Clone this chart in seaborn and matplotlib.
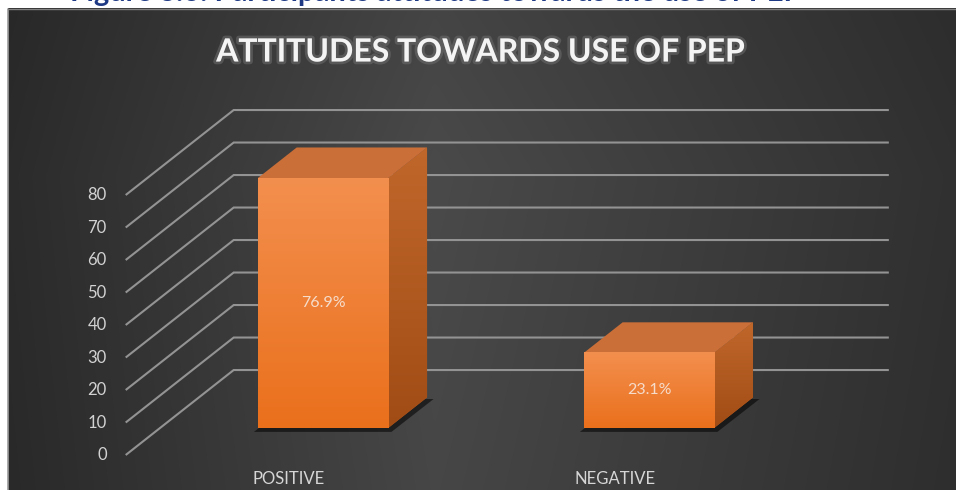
import numpy as np
import pandas as pd
import matplotlib
matplotlib.use("Agg")
import matplotlib.pyplot as plt
import matplotlib.patheffects as pe
from matplotlib.colors import LinearSegmentedColormap
from matplotlib.patches import Polygon
import seaborn as sns

# ---- data -------------------------------------------------------------
categories = ["POSITIVE", "NEGATIVE"]
percent = [76.9, 23.1]
y_ticks = [0, 10, 20, 30, 40, 50, 60, 70, 80]
title = "ATTITUDES TOWARDS USE OF PEP"
caption = "Figure 3.6: Participants attitudes towards the use of PEP"

# ---- style ------------------------------------------------------------
sns.set_theme(style="white")
plt.rcParams["font.family"] = ["Lato", "DejaVu Sans"]

W, H, DPI = 956, 490, 100
fig = plt.figure(figsize=(W / DPI, H / DPI), dpi=DPI)
fig.patch.set_facecolor("white")

# dark chart panel with a soft horizontal light falloff
bg = fig.add_axes([0, 0, 1, 1], zorder=0)
bg.set_xlim(0, W)
bg.set_ylim(H, 0)
bg.axis("off")
xs = np.linspace(0, 1, 400)
horiz = np.interp(xs, [0, 0.45, 1], [0.17, 0.29, 0.19])
ys = np.linspace(0, 1, 200)
vert = np.interp(ys, [0, 0.35, 1], [0.93, 1.0, 0.95])
shade = np.outer(vert, horiz)
bg.imshow(np.dstack([shade] * 3), extent=(8, W, H, 9), aspect="auto",
          interpolation="bilinear")
bg.plot([8.5, 8.5], [9, H], color="#9c9c9c", lw=1.2)
bg.plot([8, W], [9.5, 9.5], color="#808080", lw=1.0)

# ---- 3-D style projection --------------------------------------------
# the axes data space is the plane of the bars' front faces;
# depth is added as an oblique offset (KX categories, KY percent points)
KX, KY = 0.3313, 26.15
D_FRONT = 0.318          # depth of the bar front faces (0 = floor front, 1 = back wall)
BAR_DEPTH = 0.36
C_LEFT, C_RIGHT = -0.5, 1.51
BAR_W = 0.4

ax = fig.add_axes([0, 0, 1, 1], zorder=1)
ax.patch.set_alpha(0)

df = pd.DataFrame({"attitude": categories, "percent": percent})
sns.barplot(data=df, x="attitude", y="percent", width=BAR_W, color="#EE7D2E",
            saturation=1, ax=ax, zorder=4, edgecolor="none", errorbar=None)

grid_col = "#939393"
for v in y_ticks:
    back_y = v + (1 - D_FRONT) * KY
    fx, fy = C_LEFT - D_FRONT * KX, v - D_FRONT * KY
    bx = C_LEFT + (1 - D_FRONT) * KX
    ax.plot([fx, bx, C_RIGHT + (1 - D_FRONT) * KX], [fy, back_y, back_y],
            color=grid_col, lw=1.5, zorder=1, solid_joinstyle="miter",
            solid_capstyle="butt")
    ax.annotate(str(v), xy=(fx, fy), xytext=(-19, 0), textcoords="offset pixels",
                ha="right", va="center", color="#d2d2d2", fontsize=12)

front_cmap = LinearSegmentedColormap.from_list("front", ["#EA701C", "#F38F4E"])
side_cmap = LinearSegmentedColormap.from_list("side", ["#A14C15", "#C0672B"])
top_col = "#CB6F38"
ramp = np.linspace(0, 1, 128).reshape(-1, 1)

for patch, cat, val in zip(list(ax.patches), categories, percent):
    x0, w, h = patch.get_x(), patch.get_width(), patch.get_height()
    dx, dy = BAR_DEPTH * KX, BAR_DEPTH * KY

    # floor shadow under the footprint
    ax.add_patch(Polygon([(x0 - 0.012, -1.2), (x0 + w + 0.01, -1.2),
                          (x0 + w + dx + 0.02, dy - 0.5), (x0 + dx, dy - 0.5)],
                         closed=True, facecolor="black", alpha=0.55,
                         edgecolor="none", zorder=2))

    # front face gradient
    ax.imshow(ramp, extent=(x0, x0 + w, 0, h), cmap=front_cmap, origin="lower",
              aspect="auto", zorder=4.1, interpolation="bilinear")

    # right side face
    side = Polygon([(x0 + w, 0), (x0 + w, h), (x0 + w + dx, h + dy), (x0 + w + dx, dy)],
                   closed=True, facecolor="#B15A1F", edgecolor="none", zorder=3.5)
    ax.add_patch(side)
    im = ax.imshow(ramp, extent=(x0 + w, x0 + w + dx, 0, h + dy), cmap=side_cmap,
                   origin="lower", aspect="auto", zorder=3.6, interpolation="bilinear")
    im.set_clip_path(side)

    # top face
    ax.add_patch(Polygon([(x0, h), (x0 + w, h), (x0 + w + dx, h + dy), (x0 + dx, h + dy)],
                         closed=True, facecolor=top_col, edgecolor="none", zorder=3.7))

    # value label on the front face
    ax.text(x0 + w / 2, h / 2, f"{val}%", ha="center", va="center",
            color="#F6DCCB", fontsize=11.5, zorder=6)

    # category label under the floor front edge
    cx = x0 + w / 2
    ax.annotate(cat, xy=(cx - D_FRONT * KX, -D_FRONT * KY), xytext=(0, -24),
                textcoords="offset pixels", ha="center", va="center",
                color="#d6d6d6", fontsize=12)

ax.set_xlim(-0.991, 1.942)
ax.set_ylim(-19.08, 131.69)
ax.set_axis_off()

fig.text(481 / W, 1 - 52 / H, title, ha="center", va="center", color="#f4f4f4",
         fontsize=23, fontweight="bold",
         path_effects=[pe.withStroke(linewidth=4, foreground="#6a6a6a", alpha=0.6)])

# figure caption sitting above the chart panel (runs past the top edge)
fig.text(70 / W, 1 - 1.5 / H, caption, ha="left", va="baseline", color="#1F3A84",
         fontsize=21, fontweight="bold")

fig.savefig("out.png", dpi=DPI, facecolor="white")
